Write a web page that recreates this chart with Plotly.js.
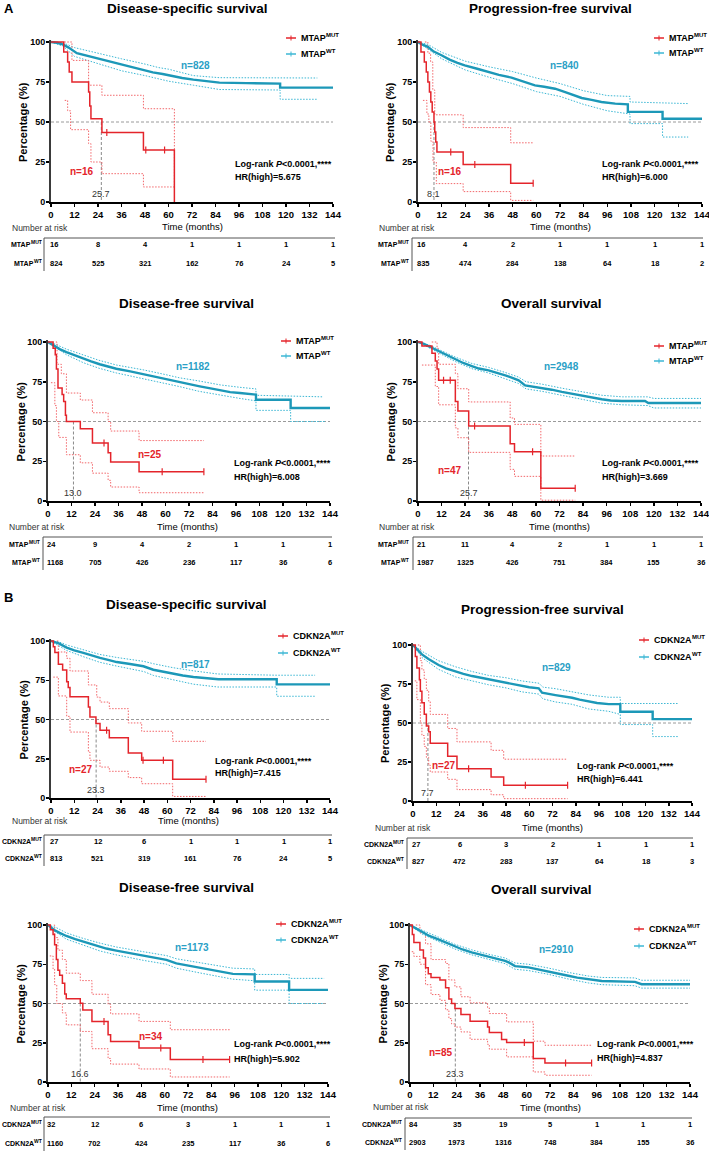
<!DOCTYPE html>
<html><head><meta charset="utf-8">
<script src="https://cdn.plot.ly/plotly-3.0.1.min.js"></script>
<style>html,body{margin:0;padding:0;background:#fff;overflow:hidden}#chart{width:709px;height:1156px}</style>
</head><body><div id="chart"></div>
<script>
// ---------------- DATA ----------------
const xTicks = [0,12,24,36,48,60,72,84,96,108,120,132,144];
const yTicks = [0,25,50,75,100];
const riskTimes = [0,24,48,72,96,120,144];

const panelTitles = ['Disease-specific survival','Progression-free survival','Disease-free survival','Overall survival',
                     'Disease-specific survival','Progression-free survival','Disease-free survival','Overall survival'];
const xTitle = 'Time (months)';
const yTitle = 'Percentage (%)';
const geneNames = ['MTAP','MTAP','MTAP','MTAP','CDKN2A','CDKN2A','CDKN2A','CDKN2A'];
const riskMutNames = ['MTAP','MTAP','MTAP','MTAP','CDKN2A','CDKN2A','CDKN2A','CDNK2A'];
const riskWtNames = ['MTAP','MTAP','MTAP','MTAP','CDKN2A','CDKN2A','CDKN2A','CDKN2A'];
const groupSup = ['MUT','WT'];
const nMut = [16,16,25,47,27,27,34,85];
const nWt = [828,840,1182,2948,817,829,1173,2910];
const hrHigh = ['5.675','6.000','6.008','3.669','7.415','6.441','5.902','4.837'];
const medianMut = [25.7,8.1,13.0,25.7,23.3,7.7,16.6,23.3];

// numbers at risk
const riskMut_A_DSS = [16,8,4,1,1,1,1];
const riskWt_A_DSS  = [824,525,321,162,76,24,5];
const riskMut_A_PFS = [16,4,2,1,1,1,1];
const riskWt_A_PFS  = [835,474,284,138,64,18,2];
const riskMut_A_DFS = [24,9,4,2,1,1,1];
const riskWt_A_DFS  = [1168,705,426,236,117,36,6];
const riskMut_A_OS  = [21,11,4,2,1,1,1];
const riskWt_A_OS   = [1987,1325,426,751,384,155,36];
const riskMut_B_DSS = [27,12,6,1,1,1,1];
const riskWt_B_DSS  = [813,521,319,161,76,24,5];
const riskMut_B_PFS = [27,6,3,2,1,1,1];
const riskWt_B_PFS  = [827,472,283,137,64,18,3];
const riskMut_B_DFS = [32,12,6,3,1,1,1];
const riskWt_B_DFS  = [1160,702,424,235,117,36,6];
const riskMut_B_OS  = [84,35,19,5,1,1,1];
const riskWt_B_OS   = [2903,1973,1316,748,384,155,36];

// curves: [month, percent]
// A - Disease-specific
const A_DSS_mut = [[0,100],[6.5,93.8],[8.5,87.5],[9.3,81.3],[10.7,75],[19.2,68.8],[19.8,60],[20.4,52],[26,43.5],[47.2,32.5],[63,0]];
const A_DSS_mutCens = [[28.5,43.5],[48.4,32.5],[58,32.5]];
const A_DSS_mutHi = [[6.8,100],[10.7,88.5],[19.2,73],[26,66.7],[47.2,58.3],[63,58.3],[63,9.4]];
const A_DSS_mutLo = [[7,63.5],[8.5,57],[10,45.2],[19.2,36.5],[20.4,25],[26,17.7],[47.2,9.4],[63,9.4]];
const A_DSS_wt = [[0,100],[3,99.5],[6,98.5],[9,96.5],[13.2,93],[18,91.5],[25,89.6],[30,88],[35,86],[41,84.3],[47,82.7],[52,81],[57,80],[62.5,78.5],[67,77.5],[72.7,76.5],[80,75.5],[86,74.6],[100,74.3],[117,74],[117,71.5],[144,71.5]];
const A_DSS_wtHi = [[0,100],[6,99.6],[12,96.5],[25,92.5],[36,89.5],[48,86.2],[55,84],[60,83],[72.7,79],[86,77.7],[117,77.5],[136,77.5]];
const A_DSS_wtLo = [[0,100],[6,97.5],[12,91],[25,86],[36,82],[48,79],[60,75.5],[72.7,73],[86,70.3],[117,70],[117,64.2],[136,64.2]];
// A - Progression-free
const A_PFS_mut = [[0,100],[1.5,93.8],[3.2,87.5],[4.2,81.3],[5,75],[5.8,68.8],[6.5,62.5],[7.2,56.3],[8.1,50],[8.5,43.8],[9,37.5],[9.6,31.3],[22.9,23.4],[47,11.7],[58.4,11.7]];
const A_PFS_mutCens = [[16.6,31.3],[28.8,23.4],[58.4,11.7]];
const A_PFS_mutHi = [[3.5,100],[5,93],[6.4,87.5],[7.5,70],[8.5,54.5],[22.9,46.5],[47,37],[58.4,37]];
const A_PFS_mutLo = [[2.5,63.5],[4.5,55],[5.5,50],[6.5,38],[7.6,25],[9.3,11.5],[22.9,6.5],[47,1],[58.4,1]];
const A_PFS_wt = [[0,100],[2,98.5],[5,97],[8,94],[11.9,91.7],[16,89],[20,87],[23.7,85.4],[30,83.3],[35.6,81.3],[41,79.5],[47.4,77.7],[53,75.5],[59.3,72.9],[64,72],[69.5,70.8],[75,68.5],[83,65],[88,63.8],[93,62.5],[100,61.5],[106.4,61],[106.4,56.3],[124,56.3],[124,52],[144,52]];
const A_PFS_wtHi = [[0,100],[5,98.5],[12,93.5],[24,88],[36,84.5],[48,81.5],[60,77.5],[72,74],[84,69.5],[96,66.5],[107.5,66],[107.5,62.5],[137,61.5]];
const A_PFS_wtLo = [[0,100],[5,95.5],[12,89.5],[24,82.5],[36,78],[48,74],[60,69],[72,66],[84,61],[96,57],[107.5,55],[107.5,49],[124,49],[124,40.6],[137,40.6]];
// A - Disease-free
const A_DFS_mut = [[0,100],[2.6,96],[3.7,92],[4.3,83],[5.1,71],[7.2,67],[8,62.5],[8.9,54],[9.4,50],[16.5,45.5],[22.7,36.5],[30.7,30.4],[32,24.5],[46.5,18.4],[79.6,18.4]];
const A_DFS_mutCens = [[28.6,36.5],[58.3,18.4],[79.6,18.4]];
const A_DFS_mutHi = [[4,100],[4.6,86],[6.8,80],[9.4,67.9],[16.5,63.5],[22.7,55.5],[30.7,50],[32,44],[46.5,38],[79.6,38]];
const A_DFS_mutLo = [[1.5,74.4],[3.5,60],[4.3,50],[5.5,40],[9.4,29.1],[16.5,24],[22.7,17.5],[30.7,13],[32,8.8],[46.5,5.2],[79.6,5.2]];
const A_DFS_wt = [[0,100],[3,97.5],[6,95.5],[9.4,93.7],[14,91.5],[17.9,89.5],[22,87.8],[26.4,86],[30,84.7],[34.9,83.2],[42,81.5],[48.6,79.7],[55,78.3],[60.5,76.9],[64,75.8],[67.3,74.8],[72,73.5],[77.5,72.1],[83,70.8],[87.8,69.6],[93,68.5],[98,67.9],[106.2,66.9],[106.2,63.7],[123.9,63.7],[123.9,58.5],[144,58.5]];
const A_DFS_wtHi = [[0,100],[4,98.5],[9.4,95.5],[18,92],[26,88.5],[35,85.5],[48.6,82.5],[60,79.5],[67,77.5],[77,75.5],[88,73],[98,71.5],[106.2,70.5],[106.2,66.5],[140.6,65.5]];
const A_DFS_wtLo = [[0,100],[4,96.5],[9.4,92],[18,87],[26,83.5],[35,80.5],[48.6,77],[60,74],[67,72],[77,69],[88,66.5],[98,64.5],[106.2,63],[106.2,57],[123.9,57],[123.9,50],[142,50]];
// A - Overall
const A_OS_mut = [[0,100],[2,97.5],[7.1,93],[8.8,88],[9.7,83],[10.5,76],[19,62.5],[20.3,56.6],[25.8,47.2],[46.9,36],[49.1,30.9],[62.5,8],[80,8]];
const A_OS_mutCens = [[13,76],[16.4,76],[28.8,47.2],[58.3,30.9],[80,8]];
const A_OS_mutHi = [[7,100],[9.7,96],[10.5,86],[19,80],[20.3,70.6],[25.8,62.3],[46.9,52.2],[49.1,48.2],[62.5,28.3],[80,28.3]];
const A_OS_mutLo = [[2,85.5],[8.8,72],[10.5,60.5],[19,46],[20.3,39.8],[25.8,30.6],[46.9,19.9],[49.1,15.5],[62.5,0.5],[80,0.5]];
const A_OS_wt = [[0,100],[3,98.8],[6,97],[10.5,94.3],[15,91.5],[19,89.1],[23,86.8],[27.4,84.9],[31,83.3],[35.9,82.2],[40,80.8],[44.4,79],[48,77.5],[51.2,75.9],[54.5,72.7],[58,72],[63,71.3],[68,70],[73.2,68.6],[78,67.5],[83.3,66.5],[88,65],[93.5,64],[98,63.2],[103.7,62.9],[115.5,62.9],[117.2,61.6],[144,61.6]];
const A_OS_wtHi = [[0,100],[6,98],[10.5,95.3],[19,90.5],[27.4,86.5],[36,84],[44,81],[51,78],[55,75],[63,73.5],[73,71],[83,69],[93.5,66.5],[104,65.5],[117,65.5],[120,64.5],[144,64.5]];
const A_OS_wtLo = [[0,100],[6,96],[10.5,93.3],[19,87.7],[27.4,83.2],[36,80.5],[44,77],[51,74],[55,70.5],[63,69],[73,66.5],[83,64],[93.5,61.5],[104,60.5],[117,60],[120,58.5],[144,58.5]];
// B - Disease-specific
const B_DSS_mut = [[0,100],[1.2,96.3],[2,92.6],[3.8,85.2],[6,81.5],[8.1,74.1],[8.9,70.4],[9.8,64.5],[19.3,58],[20.1,51.6],[23.2,47.5],[25.3,43.1],[30.1,38.4],[39.9,28.7],[46.8,24],[62.8,11.9],[80,11.9]];
const B_DSS_mutCens = [[28.7,43.1],[47.5,24],[58,24],[80,11.9]];
const B_DSS_mutHi = [[3,100],[3.8,93],[8.1,89],[9.8,80.9],[19.3,72],[23.6,64.3],[25.3,61.1],[30.1,56.9],[39.9,47.8],[46.8,42.5],[62.8,36.1],[80,36.1]];
const B_DSS_mutLo = [[1.2,77],[3.8,65],[8.1,52],[9.8,42],[19.3,29.3],[20.1,24],[25.3,19.7],[30.1,17],[39.9,13],[46.8,9.1],[62.8,1],[80,1]];
const B_DSS_wt = [[0,100],[4,98.5],[8.1,95.8],[12,94],[16.7,92.4],[21,90.7],[25.3,89.2],[30,87.8],[33.9,86.6],[40,85.5],[47.7,83.9],[52.8,81.7],[58,80.3],[63.1,79.2],[68,78],[73.5,77.1],[80,76.3],[86.4,75.6],[116.5,75.6],[116.5,72.4],[144,72.4]];
const B_DSS_wtHi = [[0,100],[4,99.5],[8,97.5],[16.7,94.5],[25,91.5],[34,89.5],[48,87],[53,85.5],[63,83],[73.5,81],[86,79],[116.5,78.2],[136.3,78.2]];
const B_DSS_wtLo = [[0,100],[4,97],[8,94],[16.7,90],[25,86.5],[34,84],[48,80.5],[53,78],[63,75.5],[73.5,72.5],[86,70.7],[116.5,70.7],[116.5,64.8],[136.3,64.8]];
// B - Progression-free
const B_PFS_mut = [[0,100],[1.2,92.6],[2,85.2],[3.3,77.8],[3.8,70.4],[4.6,63],[5.8,55.6],[6.9,48.1],[8.1,44.4],[8.9,37],[17.9,28.7],[22.7,20.6],[40.3,15.4],[46.8,10.1],[79.8,10.1]];
const B_PFS_mutCens = [[28.7,20.6],[58,10.1],[79.8,10.1]];
const B_PFS_mutHi = [[2.5,100],[3.8,90],[4.6,84],[5.8,78],[6.9,71],[8.1,64],[8.9,55.5],[17.9,46.5],[22.7,37.9],[40.3,32.5],[46.8,26.8],[79.8,26.8]];
const B_PFS_mutLo = [[0.9,77],[2,65],[3.8,50],[4.6,42],[5.8,35],[6.9,28],[8.1,23],[8.9,18.6],[17.9,13.9],[22.7,7.3],[40.3,4],[46.8,1.5],[79.8,1.5]];
const B_PFS_wt = [[0,100],[2,97.5],[4.6,94],[8,91],[13.2,87.2],[17,85],[21.8,82.9],[26,81.5],[30.5,80.1],[35,79],[39.1,77.9],[43,76.9],[47.7,75.8],[52,74.8],[56.3,73.7],[60,72.9],[64.9,72.2],[66.6,69.4],[73.5,67.9],[78,67.1],[82.1,66.2],[86,65],[90.7,63.6],[95,62.8],[101,62.1],[107,62.1],[107,57.2],[123.7,57.2],[123.7,52.5],[144,52.5]];
const B_PFS_wtHi = [[0,100],[4.6,96],[13,90],[22,86],[30.5,83],[39,80.5],[48,79],[56,77],[65,75.5],[67,73],[73.5,72],[82,70],[90.7,68],[101,66.5],[107,66.5],[107,62.5],[137,62.5]];
const B_PFS_wtLo = [[0,100],[4.6,92],[13,84.5],[22,79.5],[30.5,77],[39,74.5],[48,72.5],[56,70],[65,68.5],[67,65.5],[73.5,63.5],[82,62],[90.7,59],[101,57.5],[107,55.5],[107,49],[123.7,49],[123.7,41.3],[137,41.3]];
// B - Disease-free
const B_DFS_mut = [[0,100],[1.2,97],[2.6,94],[3.4,87.5],[4.3,78],[5.1,71.2],[6,68],[7.4,62.9],[8.6,56],[9.4,53],[16.6,50.2],[17.9,45.8],[22.6,38.6],[30.9,30.1],[32.2,25.8],[46.8,21.6],[62.9,14.4],[93.4,14.4]];
const B_DFS_mutCens = [[28.8,38.6],[58,21.6],[79.7,14.4],[93.4,14.4]];
const B_DFS_mutHi = [[3,100],[3.4,92],[5.1,84],[7.4,78],[9.4,69.3],[16.6,64.6],[22.6,55.9],[30.9,49.5],[32.2,43.4],[46.8,38.6],[62.9,33.3],[93.4,33.3]];
const B_DFS_mutLo = [[0.9,80.3],[2.6,72],[3.4,62],[4.5,50],[7.4,44],[9.4,36.4],[16.6,32.2],[22.6,21.2],[30.9,15],[32.2,11.4],[46.8,8.3],[62.9,3.2],[93.4,3.2]];
const B_DFS_wt = [[0,100],[3,97],[6,95],[9.4,93],[14,91],[18,89.4],[22,87.8],[26.6,86.2],[30,85],[35.1,83.7],[42,82],[48.9,80.3],[55,79],[60.9,77.8],[66,75.6],[72,74.2],[78,72.9],[83,71.5],[88.3,70.3],[95.1,68.9],[106.3,68.6],[106.3,64],[124,64],[124,58.7],[144,58.7]];
const B_DFS_wtHi = [[0,100],[4,98.5],[9.4,95],[18,91.5],[26.6,88.5],[35,86],[49,83],[61,80.5],[66,78.5],[78,76],[88,73.5],[95,72.5],[106.3,72],[106.3,68.5],[124,68.5],[124,66],[142,66]];
const B_DFS_wtLo = [[0,100],[4,95.5],[9.4,91],[18,87],[26.6,83.5],[35,81],[49,77.5],[61,75],[66,72.5],[78,69.5],[88,67],[95,65.5],[106.3,64.5],[106.3,58.5],[124,58.5],[124,50],[142,50]];
// B - Overall
const B_OS_mut = [[0,100],[1.2,94],[2,88.9],[5.1,84],[6.9,79],[8,72.8],[9.4,69],[10.8,66.5],[15.4,65],[18.3,60],[20,52.8],[21.4,50],[23.1,46.8],[26.2,43],[30.9,38.7],[39.9,35],[40.8,31.5],[47.1,27],[49.7,25.1],[63.4,14.9],[69.4,12.1],[93.4,12.1]];
const B_OS_mutCens = [[58.8,25.1],[80,12.1],[93.4,12.1]];
const B_OS_mutHi = [[3,100],[5.1,95],[8,88],[10.8,78],[18.3,75.5],[20,65],[23.1,60.6],[26.2,54.3],[30.9,50.4],[39.9,47.2],[40.8,43.6],[49.7,38.3],[63.4,26],[69.4,23.4],[93.4,23.4]];
const B_OS_mutLo = [[0.9,83],[2,80],[5.1,75],[8,62],[10.8,55.7],[15.4,52],[18.3,46],[20,40.4],[21.4,37],[23.1,35],[26.2,31.9],[30.9,27.2],[39.9,24],[40.8,20.9],[49.7,16],[63.4,6.4],[69.4,4.3],[93.4,4.3]];
const B_OS_wt = [[0,100],[3,98],[6,95.7],[10,93],[14.6,90.9],[19,88.5],[23.1,86.2],[27,84.4],[31.7,82.6],[36,81.2],[40.3,79.8],[44.6,78.5],[48.9,77.2],[51,76],[54,73.8],[60.9,73],[66,71.8],[71.1,70.6],[76,69.2],[81.4,67.7],[86,66.5],[91.7,65.3],[98.6,64.3],[115.7,63.8],[119.1,62.3],[144,62.3]];
const B_OS_wtHi = [[0,100],[6,97],[14.6,92.3],[23.1,87.7],[31.7,84.2],[40.3,81.4],[48.9,79],[54,75.8],[60.9,75],[71.1,72.6],[81.4,69.8],[91.7,67.5],[98.6,66.6],[115.7,66.3],[119.1,64.8],[144,64.8]];
const B_OS_wtLo = [[0,100],[6,94.4],[14.6,89.5],[23.1,84.7],[31.7,81],[40.3,78.2],[48.9,75.4],[54,71.8],[60.9,71],[71.1,68.6],[81.4,65.6],[91.7,63.1],[98.6,62],[115.7,61.3],[119.1,59.8],[144,59.8]];

const panels = [
  {mut:A_DSS_mut,cens:A_DSS_mutCens,mutHi:A_DSS_mutHi,mutLo:A_DSS_mutLo,wt:A_DSS_wt,wtHi:A_DSS_wtHi,wtLo:A_DSS_wtLo,rMut:riskMut_A_DSS,rWt:riskWt_A_DSS},
  {mut:A_PFS_mut,cens:A_PFS_mutCens,mutHi:A_PFS_mutHi,mutLo:A_PFS_mutLo,wt:A_PFS_wt,wtHi:A_PFS_wtHi,wtLo:A_PFS_wtLo,rMut:riskMut_A_PFS,rWt:riskWt_A_PFS},
  {mut:A_DFS_mut,cens:A_DFS_mutCens,mutHi:A_DFS_mutHi,mutLo:A_DFS_mutLo,wt:A_DFS_wt,wtHi:A_DFS_wtHi,wtLo:A_DFS_wtLo,rMut:riskMut_A_DFS,rWt:riskWt_A_DFS},
  {mut:A_OS_mut,cens:A_OS_mutCens,mutHi:A_OS_mutHi,mutLo:A_OS_mutLo,wt:A_OS_wt,wtHi:A_OS_wtHi,wtLo:A_OS_wtLo,rMut:riskMut_A_OS,rWt:riskWt_A_OS},
  {mut:B_DSS_mut,cens:B_DSS_mutCens,mutHi:B_DSS_mutHi,mutLo:B_DSS_mutLo,wt:B_DSS_wt,wtHi:B_DSS_wtHi,wtLo:B_DSS_wtLo,rMut:riskMut_B_DSS,rWt:riskWt_B_DSS},
  {mut:B_PFS_mut,cens:B_PFS_mutCens,mutHi:B_PFS_mutHi,mutLo:B_PFS_mutLo,wt:B_PFS_wt,wtHi:B_PFS_wtHi,wtLo:B_PFS_wtLo,rMut:riskMut_B_PFS,rWt:riskWt_B_PFS},
  {mut:B_DFS_mut,cens:B_DFS_mutCens,mutHi:B_DFS_mutHi,mutLo:B_DFS_mutLo,wt:B_DFS_wt,wtHi:B_DFS_wtHi,wtLo:B_DFS_wtLo,rMut:riskMut_B_DFS,rWt:riskWt_B_DFS},
  {mut:B_OS_mut,cens:B_OS_mutCens,mutHi:B_OS_mutHi,mutLo:B_OS_mutLo,wt:B_OS_wt,wtHi:B_OS_wtHi,wtLo:B_OS_wtLo,rMut:riskMut_B_OS,rWt:riskWt_B_OS}
];

// ---------------- STYLE / GEOMETRY (pixels) ----------------
const W = 709, H = 1156;
const FONT = 'Arial, "Liberation Sans", Helvetica, sans-serif';
const RED = '#e4242b', RED_CI = '#f2676b', TEAL = '#1c98b8', TEAL_CI = '#3cb7d4', TEAL_TXT = '#2a9fc6';
const GEO = [
  {l:51, r:333, b:202, t:42,  tit:[188,0,'top'],     xt:[192,227],  leg:[300,38,54],   nar:[10,228],  lab:43,  tl:[44,335,238],   rows:[244,263],   nM:[15.8,19],  nW:[74,85],   lr:[92.7,23.5,15.6]},
  {l:418,r:702, b:202, t:42,  tit:[550,0,'top'],     xt:[560,227],  leg:[668,38,53],   nar:[377,228], lab:410, tl:[412,703,238],  rows:[244,263],   nM:[16,18.8],  nW:[74.5,85], lr:[92.3,23.5,15.6]},
  {l:48, r:330, b:501, t:342, tit:[187,303,'middle'],xt:[188,526],  leg:[295,341,356], nar:[7,527],   lab:41,  tl:[43,332,537],   rows:[544,562],   nM:[52.3,29.4],nW:[74.1,84.9],lr:[94.2,23.9,15.1]},
  {l:418,r:701, b:501, t:342, tit:[551,303,'middle'],xt:[559,526],  leg:[668,346,361], nar:[377,527], lab:410, tl:[413,703,537],  rows:[544,562],   nM:[16.3,19.3],nW:[73,84.9], lr:[92.7,23.9,15.1]},
  {l:51, r:330, b:798, t:641, tit:[187,604,'middle'],xt:[189,821],  leg:[292,636,653], nar:[10,821],  lab:43,  tl:[44,332,835],   rows:[841,858],   nM:[15.7,18],  nW:[74.5,84.9],lr:[83.8,23.6,15.9]},
  {l:413,r:692, b:801, t:645, tit:[542,609,'middle'],xt:[552,827],  leg:[653,640,657], nar:[373,828], lab:405, tl:[407,693,838],  rows:[844,861],   nM:[16.2,22.5],nW:[74.2,85.4],lr:[83.4,22.5,13.9]},
  {l:48, r:328, b:1082,t:925, tit:[187,887,'middle'],xt:[188,1107], leg:[290,924,940], nar:[8,1108],  lab:43,  tl:[44,330,1117],  rows:[1124,1143], nM:[52.8,29],  nW:[74.2,85.8],lr:[94.8,24.2,14.6]},
  {l:410,r:690, b:1082,t:925, tit:[541,889,'middle'],xt:[550,1107], leg:[648,929,946], nar:[371,1107],lab:403, tl:[405,692,1118], rows:[1124,1142], nM:[15.9,18.7],nW:[75.3,84.7],lr:[95.1,24.5,15.3]}
];
const px = p => p / W;
const py = p => 1 - p / H;

// text width measurement (for placing superscripts next to base text)
const measureCtx = document.createElement('canvas').getContext('2d');
function textWidth(str, size, bold) {
  measureCtx.font = (bold ? 'bold ' : '') + size + 'px ' + FONT;
  return measureCtx.measureText(str).width;
}

const traces = [];
const layout = {
  width: W, height: H, margin: {l:0, r:0, t:0, b:0},
  paper_bgcolor: '#fff', plot_bgcolor: '#fff',
  font: {family: FONT, color: '#000'}, showlegend: false,
  annotations: [], shapes: [], hovermode: false
};

function line(data, color, width, dash, shape, xa, ya, name) {
  return {x: data.map(d => d[0]), y: data.map(d => d[1]), mode: 'lines', name: name,
    line: {color: color, width: width, dash: dash, shape: shape},
    xaxis: xa, yaxis: ya, showlegend: false, hoverinfo: 'skip'};
}

panels.forEach((p, i) => {
  const k = i + 1, g = GEO[i];
  const xa = k === 1 ? 'x' : 'x' + k, ya = k === 1 ? 'y' : 'y' + k;
  const xaxName = k === 1 ? 'xaxis' : 'xaxis' + k, yaxName = k === 1 ? 'yaxis' : 'yaxis' + k;
  const topPx = g.t - 0.01 * (g.b - g.t);
  const A = layout.annotations, S = layout.shapes;

  layout[xaxName] = {domain: [px(g.l), px(g.r)], range: [0, 144], anchor: ya, tickvals: xTicks,
    ticks: 'outside', ticklen: 3, tickwidth: 1.5, tickcolor: '#000', showline: true, linecolor: '#000', linewidth: 1.5,
    showgrid: false, zeroline: false, fixedrange: true, ticklabeloverflow: 'allow',
    tickfont: {family: FONT, size: 9.5, weight: 'bold', color: '#000'}};
  layout[yaxName] = {domain: [py(g.b), py(topPx)], range: [0, 101], anchor: xa, tickvals: yTicks,
    ticks: 'outside', ticklen: 3, tickwidth: 1.5, tickcolor: '#000', showline: true, linecolor: '#3a3a3a', linewidth: 2,
    showgrid: false, zeroline: false, fixedrange: true, ticklabelstandoff: -1, ticklabeloverflow: 'allow',
    tickfont: {family: FONT, size: 9, weight: 'bold', color: '#000'}};

  // reference lines (50% and median)
  S.push({type: 'line', xref: xa, yref: ya, x0: 0, x1: 144, y0: 50, y1: 50, layer: 'below',
    line: {color: '#9a9a9a', width: 1, dash: '3px,2px'}});
  S.push({type: 'line', xref: xa, yref: ya, x0: medianMut[i], x1: medianMut[i], y0: 50, y1: 0, layer: 'below',
    line: {color: '#8a8a8a', width: 1, dash: '3px,2px'}});

  // curves
  const mutName = geneNames[i] + ' MUT', wtName = geneNames[i] + ' WT';
  traces.push(line(p.wtHi, TEAL_CI, 1, '1.5px,1.5px', 'linear', xa, ya, wtName + ' 95% CI upper'));
  traces.push(line(p.wtLo, TEAL_CI, 1, '1.5px,1.5px', 'linear', xa, ya, wtName + ' 95% CI lower'));
  traces.push(line(p.mutHi, RED_CI, 1, '1.5px,1.5px', 'hv', xa, ya, mutName + ' 95% CI upper'));
  traces.push(line(p.mutLo, RED_CI, 1, '1.5px,1.5px', 'hv', xa, ya, mutName + ' 95% CI lower'));
  traces.push(line(p.wt, TEAL, 2.4, 'solid', 'linear', xa, ya, wtName));
  traces.push(line(p.mut, RED, 1.5, 'solid', 'hv', xa, ya, mutName));
  traces.push({x: p.cens.map(d => d[0]), y: p.cens.map(d => d[1]), mode: 'markers', name: mutName + ' censored',
    marker: {symbol: 'line-ns-open', size: 5, color: RED, line: {color: RED, width: 1.2}},
    xaxis: xa, yaxis: ya, showlegend: false, hoverinfo: 'skip'});

  // legend (line key + name with superscript)
  [[RED, g.leg[1]], [TEAL_CI, g.leg[2]]].forEach(([col, ry], j) => {
    const x0 = g.leg[0];
    S.push({type: 'line', xref: 'paper', yref: 'paper', x0: px(x0 - 14), x1: px(x0 - 4), y0: py(ry), y1: py(ry),
      line: {color: col, width: 1.5}});
    S.push({type: 'line', xref: 'paper', yref: 'paper', x0: px(x0 - 9), x1: px(x0 - 9), y0: py(ry - 2.5), y1: py(ry + 2.5),
      line: {color: col, width: 1}});
    const base = geneNames[i];
    A.push({xref: 'paper', yref: 'paper', x: px(x0), y: py(ry), xanchor: 'left', yanchor: 'middle', borderpad: 0,
      text: base, showarrow: false, font: {family: FONT, size: 9, weight: 'bold', color: '#000'}});
    A.push({xref: 'paper', yref: 'paper', x: px(x0 + textWidth(base, 9, true)), y: py(ry - 3), xanchor: 'left', yanchor: 'middle', borderpad: 0,
      text: groupSup[j], showarrow: false, font: {family: FONT, size: 6, weight: 'bold', color: '#000'}});
  });

  // title
  A.push({xref: 'paper', yref: 'paper', x: px(g.tit[0]), y: py(g.tit[1]), xanchor: 'center', yanchor: g.tit[2],
    text: panelTitles[i], showarrow: false, borderpad: 0, font: {family: FONT, size: 13.5, weight: 'bold', color: '#000'}});
  // axis titles
  A.push({xref: 'paper', yref: 'paper', x: px(g.xt[0]), y: py(g.xt[1]), xanchor: 'center', yanchor: 'middle',
    text: xTitle, showarrow: false, font: {family: FONT, size: 9.5, color: '#000'}});
  A.push({xref: 'paper', yref: 'paper', x: px(g.l - 28), y: py((g.t + g.b) / 2), xanchor: 'center', yanchor: 'middle',
    textangle: -90, text: yTitle, showarrow: false, font: {family: FONT, size: 11, weight: 'bold', color: '#000'}});
  // n labels
  A.push({xref: xa, yref: ya, x: g.nM[0], y: g.nM[1], text: 'n=' + nMut[i], showarrow: false,
    font: {family: FONT, size: 10, weight: 'bold', color: RED}});
  A.push({xref: xa, yref: ya, x: g.nW[0], y: g.nW[1], text: 'n=' + nWt[i], showarrow: false,
    font: {family: FONT, size: 10, weight: 'bold', color: TEAL_TXT}});
  // stats
  A.push({xref: xa, yref: ya, x: g.lr[0], y: g.lr[1], xanchor: 'left', text: 'Log-rank <i>P</i>&lt;0.0001,****', showarrow: false,
    font: {family: FONT, size: 9, weight: 'bold', color: '#000'}});
  A.push({xref: xa, yref: ya, x: g.lr[0], y: g.lr[2], xanchor: 'left', text: 'HR(high)=' + hrHigh[i], showarrow: false,
    font: {family: FONT, size: 9, weight: 'bold', color: '#000'}});
  // median label
  A.push({xref: xa, yref: ya, x: medianMut[i], y: 0, yanchor: 'bottom', yshift: 1, text: medianMut[i].toFixed(1), showarrow: false,
    font: {family: FONT, size: 9, color: '#333'}});

  // risk table
  A.push({xref: 'paper', yref: 'paper', x: px(g.nar[0]), y: py(g.nar[1]), xanchor: 'left', yanchor: 'middle',
    text: 'Number at risk', showarrow: false, font: {family: FONT, size: 8.5, color: '#333'}});
  [[riskMutNames[i], g.rows[0], groupSup[0]], [riskWtNames[i], g.rows[1], groupSup[1]]].forEach(([base, ry, sup]) => {
    const ws = textWidth(sup, 5, true);
    A.push({xref: 'paper', yref: 'paper', x: px(g.lab), y: py(ry - 2.5), xanchor: 'right', yanchor: 'middle', borderpad: 0,
      text: sup, showarrow: false, font: {family: FONT, size: 5, weight: 'bold', color: '#000'}});
    A.push({xref: 'paper', yref: 'paper', x: px(g.lab - ws), y: py(ry), xanchor: 'right', yanchor: 'middle', borderpad: 0,
      text: base, showarrow: false, font: {family: FONT, size: 7, weight: 'bold', color: '#000'}});
  });
  riskTimes.forEach((t, j) => {
    [[p.rMut, g.rows[0]], [p.rWt, g.rows[1]]].forEach(([arr, ry]) => {
      A.push({xref: xa, yref: 'paper', x: t, y: py(ry), xanchor: j === 0 ? 'left' : 'center', xshift: j === 0 ? -3 : 0,
        yanchor: 'middle', text: String(arr[j]), showarrow: false, font: {family: FONT, size: 7.5, weight: 'bold', color: '#000'}});
    });
  });
  S.push({type: 'line', xref: 'paper', yref: 'paper', x0: px(g.tl[0]), x1: px(g.tl[1]), y0: py(g.tl[2]), y1: py(g.tl[2]),
    line: {color: '#555', width: 1}});
  S.push({type: 'line', xref: 'paper', yref: 'paper', x0: px(g.tl[0]), x1: px(g.tl[0]), y0: py(g.tl[2]), y1: py(g.rows[1] + 8),
    line: {color: '#555', width: 1}});
});

// panel letters
layout.annotations.push({xref: 'paper', yref: 'paper', x: px(2), y: py(9), xanchor: 'left', yanchor: 'middle', text: 'A',
  showarrow: false, font: {family: FONT, size: 13, weight: 'bold', color: '#000'}});
layout.annotations.push({xref: 'paper', yref: 'paper', x: px(2), y: py(597), xanchor: 'left', yanchor: 'middle', text: 'B',
  showarrow: false, font: {family: FONT, size: 13, weight: 'bold', color: '#000'}});

Plotly.newPlot('chart', traces, layout, {staticPlot: true, displayModeBar: false});
</script>
</body></html>
